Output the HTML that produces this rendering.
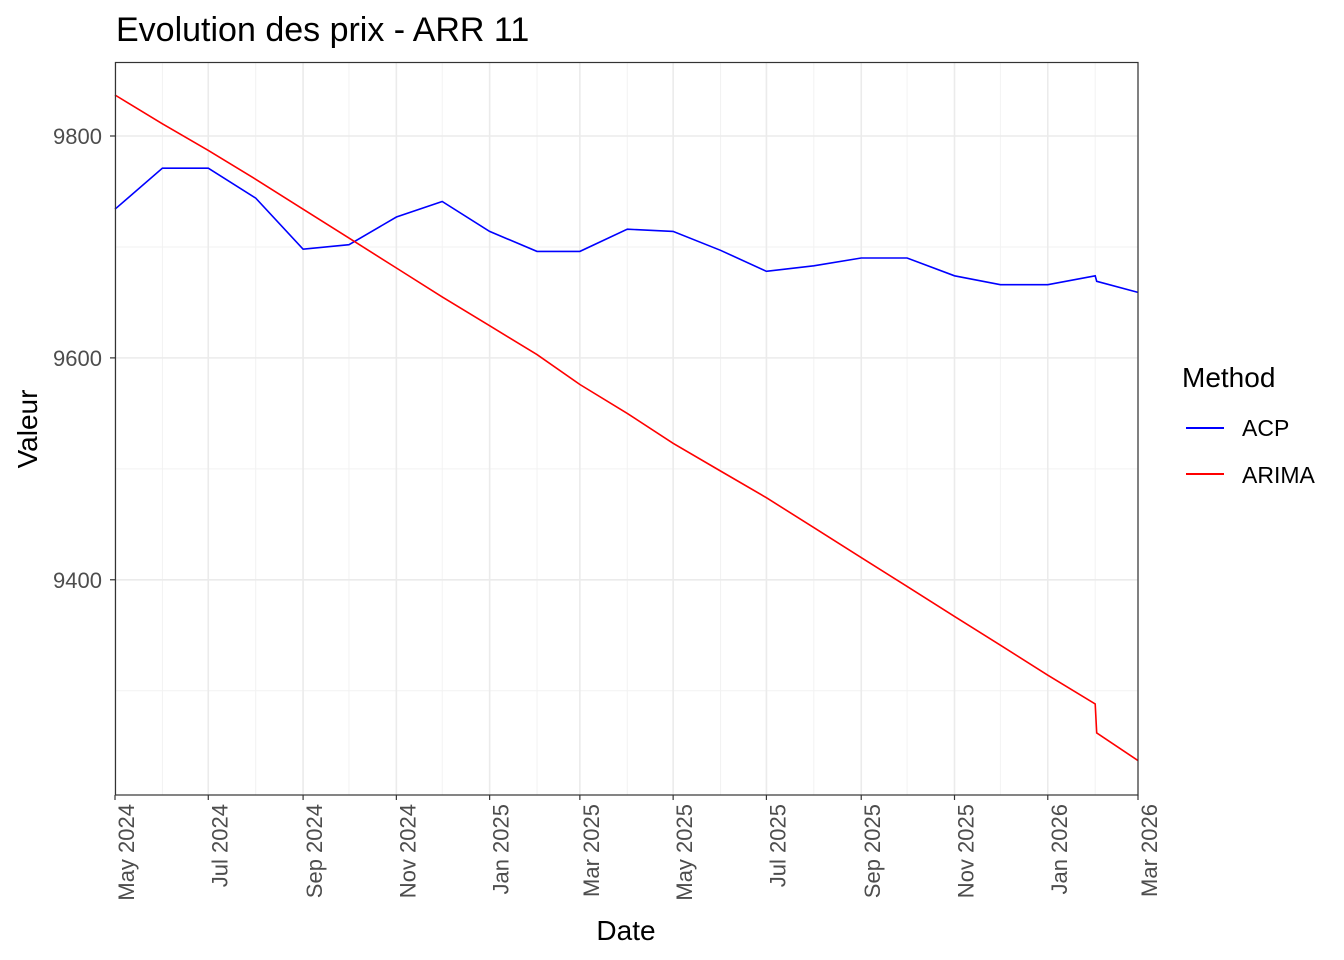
<!DOCTYPE html>
<html><head><meta charset="utf-8">
<style>
html,body{margin:0;padding:0;background:#fff;}
svg{display:block;font-family:"Liberation Sans",Arial,sans-serif;}
</style></head>
<body>
<svg id="chart" width="1344" height="960" viewBox="0 0 1344 960">
<text x="116" y="41" font-size="34" fill="#000">Evolution des prix - ARR 11</text>
<g id="grid"></g>
<g id="series"></g>
<rect x="115.5" y="62.5" width="1022.5" height="732.5" fill="none" stroke="#333" stroke-width="1.2"/>
<g id="axes"></g>
<text x="626" y="940" font-size="28" text-anchor="middle" fill="#000">Date</text>
<text transform="translate(37,429) rotate(-90)" font-size="28" text-anchor="middle" fill="#000">Valeur</text>
<g>
<text x="1182" y="387" font-size="28" fill="#000">Method</text>
<line x1="1186" y1="428" x2="1224" y2="428" stroke="#0000ff" stroke-width="2"/>
<text x="1242" y="436" font-size="23" fill="#000">ACP</text>
<line x1="1186" y1="474" x2="1224" y2="474" stroke="#ff0000" stroke-width="2"/>
<text x="1242" y="483" font-size="23" fill="#000">ARIMA</text>
</g>
</svg>
<script>
const acpDates = ["2024-05-01","2024-06-01","2024-07-01","2024-08-01","2024-09-01","2024-10-01","2024-11-01","2024-12-01","2025-01-01","2025-02-01","2025-03-01","2025-04-01","2025-05-01","2025-06-01","2025-07-01","2025-08-01","2025-09-01","2025-10-01","2025-11-01","2025-12-01","2026-01-01","2026-02-01","2026-02-02","2026-03-01"];
const acpValues = [9734,9771,9771,9744,9698,9702,9727,9741,9714,9696,9696,9716,9714,9697,9678,9683,9690,9690,9674,9666,9666,9674,9669,9659];
const arimaDates = acpDates;
const arimaValues = [9837,9811,9787,9761,9734,9708,9681,9655,9629,9603,9576,9550,9523,9498,9474,9447,9420,9394,9367,9341,9314,9288,9262,9237];
const yTicks = [9400,9600,9800];
const yMinor = [9300,9500,9700];
const xTicks = ["2024-05-01","2024-07-01","2024-09-01","2024-11-01","2025-01-01","2025-03-01","2025-05-01","2025-07-01","2025-09-01","2025-11-01","2026-01-01","2026-03-01"];
const xTickLabels = ["May 2024","Jul 2024","Sep 2024","Nov 2024","Jan 2025","Mar 2025","May 2025","Jul 2025","Sep 2025","Nov 2025","Jan 2026","Mar 2026"];
const xMinor = ["2024-06-01","2024-08-01","2024-10-01","2024-12-01","2025-02-01","2025-04-01","2025-06-01","2025-08-01","2025-10-01","2025-12-01","2026-02-01"];

const NS="http://www.w3.org/2000/svg";
const X0=115,X1=1138,Y0=795,Y1=62;
const d0=Date.parse("2024-05-01"),d1=Date.parse("2026-03-01");
const yMin=9206,yMax=9866.7;
function xs(d){return X0+(Date.parse(d)-d0)/(d1-d0)*(X1-X0);}
function ys(v){return Y0-(v-yMin)/(yMax-yMin)*(Y0-Y1);}
function mk(tag,attrs,parent){const e=document.createElementNS(NS,tag);for(const k in attrs)e.setAttribute(k,attrs[k]);parent.appendChild(e);return e;}
const grid=document.getElementById('grid'),axes=document.getElementById('axes'),series=document.getElementById('series');
yMinor.forEach(v=>{const l=mk('line',{x1:X0,x2:X1,y1:ys(v),y2:ys(v),stroke:'#f2f2f2','stroke-width':1},grid);

});
xMinor.forEach(d=>{const l=mk('line',{x1:xs(d),x2:xs(d),y1:Y1,y2:Y0,stroke:'#f2f2f2','stroke-width':1},grid);

});
yTicks.forEach(v=>{const y=ys(v);
const l=mk('line',{x1:X0,x2:X1,y1:y,y2:y,stroke:'#ebebeb','stroke-width':1.6},grid);


const t=mk('line',{x1:X0-5,x2:X0,y1:y,y2:y,stroke:'#333','stroke-width':1.2},axes);


const tx=mk('text',{x:X0-13,y:y+8,'font-size':22,'text-anchor':'end',fill:'#4d4d4d'},axes);tx.textContent=v;

});
xTicks.forEach((d,i)=>{const x=xs(d);
const l=mk('line',{x1:x,x2:x,y1:Y1,y2:Y0,stroke:'#ebebeb','stroke-width':1.6},grid);


const t=mk('line',{x1:x,x2:x,y1:Y0,y2:Y0+5,stroke:'#333','stroke-width':1.2},axes);


const tx=mk('text',{transform:`translate(${x+19},${Y0+9}) rotate(-90)`,'font-size':22,'text-anchor':'end',fill:'#4d4d4d'},axes);tx.textContent=xTickLabels[i];

});
function line(dates,vals,color,name){const p=dates.map((d,i)=>xs(d).toFixed(1)+','+ys(vals[i]).toFixed(1)).join(' ');
const e=mk('polyline',{points:p,fill:'none',stroke:color,'stroke-width':1.6},series);

}
line(acpDates,acpValues,'#0000ff','acp-line');
line(arimaDates,arimaValues,'#ff0000','arima-line');
</script>
</body></html>
